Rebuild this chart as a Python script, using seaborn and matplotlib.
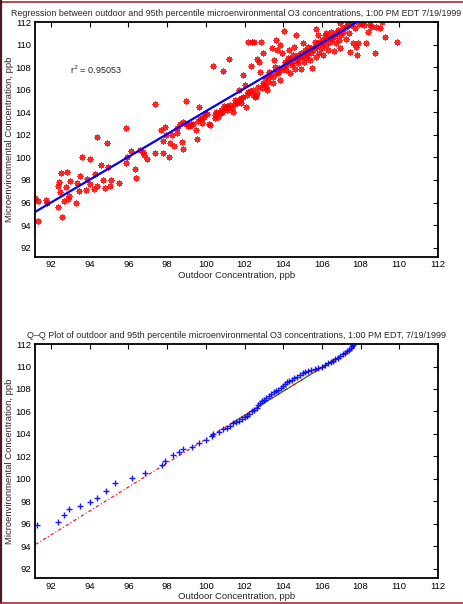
import numpy as np
import matplotlib
matplotlib.use('Agg')
import matplotlib.pyplot as plt
from matplotlib.lines import Line2D
import seaborn as sns

# scatter: outdoor vs 95th percentile microenvironmental O3 (ppb)
outdoor_x = [
    91.17, 91.30, 91.30, 91.74, 91.80, 92.38, 92.40, 92.50, 92.47, 92.38,
    92.57, 92.80, 92.77, 92.98, 92.69, 92.90, 92.95, 93.30, 93.36, 93.46,
    93.50, 93.58, 93.80, 93.88, 94.00, 94.00, 94.20, 94.29, 94.37, 94.36,
    94.58, 94.70, 94.77, 94.90, 94.96, 95.03, 95.10, 95.50, 95.86, 95.87,
    95.92, 96.11, 96.34, 96.40, 96.60, 96.77, 96.78, 96.94, 97.39, 97.37,
    97.66, 97.78, 97.77, 97.89, 97.94, 98.11, 98.14, 98.23, 98.33, 98.49,
    98.49, 98.66, 98.75, 98.83, 98.80, 98.97, 99.06, 99.26, 99.47, 99.52,
    99.64, 99.69, 99.78, 99.90, 100.04, 100.18, 100.24, 100.35, 100.47, 100.55,
    100.64, 100.76, 100.88, 100.86, 100.98, 101.07, 101.20, 101.16, 101.24, 101.41,
    101.50, 101.62, 101.72, 101.76, 101.80, 101.90, 102.00, 102.10, 102.14, 102.19,
    102.30, 102.36, 102.40, 102.45, 102.48, 102.53, 102.62, 102.65, 102.74, 102.83,
    102.80, 102.88, 102.96, 103.00, 103.07, 103.14, 103.22, 103.27, 103.40, 103.34,
    103.45, 103.51, 103.58, 103.65, 103.69, 103.74, 103.82, 103.86, 103.96, 104.03,
    104.03, 104.10, 104.17, 104.25, 104.30, 104.34, 104.43, 104.51, 104.55, 104.60,
    104.68, 104.72, 104.79, 104.86, 104.91, 104.94, 105.03, 105.06, 105.13, 105.17,
    105.24, 105.29, 105.37, 105.46, 105.51, 105.55, 105.63, 105.68, 105.72, 105.75,
    105.80, 105.86, 105.92, 105.98, 106.03, 106.06, 106.15, 106.20, 106.23, 106.32,
    106.40, 106.49, 106.54, 106.61, 106.66, 106.75, 106.84, 106.89, 106.92, 106.96,
    107.00, 107.09, 107.23, 107.27, 107.35, 107.40, 107.47, 107.52, 107.61, 107.70,
    107.75, 107.82, 107.87, 107.92, 108.09, 108.16, 108.30, 108.39, 108.47, 108.56,
    108.73, 108.82, 108.99, 109.13, 109.25, 109.88,
    101.93, 102.19, 102.45, 102.59, 102.71, 102.96, 103.10, 103.22, 103.48, 103.62,
    103.79, 103.91, 104.13, 104.20, 104.37, 104.48, 104.65, 104.77, 104.99, 105.11,
    105.29, 105.46, 105.63, 105.80, 105.98, 106.15, 106.32, 106.49, 106.71, 106.89,
    107.09, 107.30, 107.47,
    100.47, 100.64, 100.81, 100.93, 101.07, 101.33, 101.50, 101.67, 101.84, 99.95,
    99.78, 99.60, 99.35, 99.18, 99.00,
]
micro_y = [
    96.37, 96.10, 94.40, 96.20, 96.00, 97.50, 97.85, 98.65, 96.90, 95.60,
    94.70, 98.70, 97.40, 97.90, 96.10, 96.30, 96.60, 96.00, 97.70, 97.00,
    98.35, 100.07, 97.10, 98.05, 99.83, 97.64, 97.20, 98.53, 97.50, 101.84,
    99.36, 97.97, 97.26, 101.25, 99.12, 97.50, 97.97, 97.70, 102.60, 99.47,
    100.07, 100.54, 98.97, 98.20, 100.66, 100.45, 100.21, 99.83, 104.73, 100.42,
    102.43, 100.42, 101.48, 102.67, 101.99, 100.00, 101.25, 101.99, 101.00, 102.19,
    102.58, 102.96, 101.40, 100.72, 103.14, 105.03, 102.78, 102.96, 102.43, 101.66,
    104.44, 103.37, 103.02, 103.55, 103.85, 102.96, 102.84, 108.10, 103.76, 104.05,
    103.60, 103.90, 107.69, 104.05, 104.35, 104.20, 108.70, 104.50, 104.64, 104.05,
    105.09, 104.85, 105.97, 105.09, 104.80, 107.30, 106.40, 104.50, 105.53, 110.20,
    105.90, 108.13, 110.20, 105.53, 110.20, 105.38, 108.70, 105.68, 108.48, 110.20,
    107.60, 106.12, 109.22, 106.42, 107.00, 105.97, 106.70, 107.60, 109.67, 107.30,
    106.56, 108.63, 108.04, 110.40, 109.50, 107.45, 106.86, 109.96, 109.22, 111.23,
    108.04, 108.48, 107.75, 108.78, 109.50, 107.45, 108.19, 109.08, 109.81, 107.80,
    110.88, 108.63, 108.34, 108.93, 107.80, 109.22, 110.17, 108.48, 109.50, 108.78,
    109.08, 109.81, 108.63, 109.22, 107.89, 109.50, 110.26, 108.93, 111.35, 109.81,
    110.85, 109.22, 110.10, 109.67, 110.40, 109.08, 110.85, 109.96, 111.00, 109.50,
    110.26, 111.14, 110.46, 109.46, 110.76, 110.10, 111.30, 110.40, 111.88, 109.67,
    110.85, 111.14, 111.59, 110.46, 111.94, 111.05, 109.37, 111.73, 110.10, 111.44,
    109.81, 109.08, 110.10, 111.82, 111.88, 111.70, 110.17, 111.14, 111.82, 111.53,
    109.22, 111.59, 111.44, 112.00, 110.64, 110.23,
    105.38, 105.83, 105.97, 105.44, 106.27, 106.56, 106.20, 107.15, 107.10, 107.50,
    107.90, 107.75, 108.19, 108.48, 108.70, 108.34, 108.78, 109.08, 108.93, 109.22,
    109.37, 109.67, 109.81, 110.10, 110.17, 110.40, 110.55, 110.70, 111.00, 111.14,
    111.44, 111.65, 111.88,
    103.46, 103.90, 104.20, 104.55, 104.55, 104.35, 104.73, 105.09, 105.24, 103.90,
    103.46, 103.25, 102.96, 102.78, 102.96,
]

# regression line
fit_slope = 1.011
fit_intercept = 2.99
r_squared = 0.95053

# Q-Q plot: quantile pairs
qq_x = [
    91.29, 92.38, 92.65, 92.93, 93.48, 94.01, 94.38, 94.86, 95.32, 96.18,
    96.84, 97.73, 97.89, 98.28, 98.61, 98.83, 99.31, 99.64, 100.00, 100.30,
    100.38, 100.69, 100.90, 101.07, 101.24, 101.40, 101.55, 101.70, 101.85, 102.00,
    102.12, 102.25, 102.38, 102.50, 102.62, 102.72, 102.80, 102.90, 103.00, 103.12,
    103.25, 103.38, 103.50, 103.62, 103.75, 103.88, 104.00, 104.10, 104.20, 104.32,
    104.45, 104.58, 104.70, 104.85, 105.00, 105.15, 105.30, 105.45, 105.62, 105.80,
    105.98, 106.15, 106.30, 106.45, 106.58, 106.70, 106.82, 106.95, 107.08, 107.20,
    107.30, 107.40, 107.48, 107.55, 107.60,
]
qq_y = [
    95.85, 96.17, 96.76, 97.30, 97.59, 97.92, 98.33, 98.89, 99.63, 100.10,
    100.52, 101.23, 101.62, 102.09, 102.41, 102.62, 102.86, 103.21, 103.48, 103.80,
    103.95, 104.19, 104.43, 104.57, 104.72, 104.95, 105.05, 105.15, 105.35, 105.50,
    105.62, 105.80, 106.00, 106.12, 106.30, 106.55, 106.75, 106.90, 107.05, 107.20,
    107.35, 107.52, 107.70, 107.82, 107.95, 108.08, 108.30, 108.45, 108.58, 108.70,
    108.82, 108.95, 109.05, 109.25, 109.40, 109.50, 109.60, 109.68, 109.75, 109.85,
    110.00, 110.15, 110.30, 110.40, 110.52, 110.65, 110.78, 110.92, 111.08, 111.20,
    111.35, 111.50, 111.65, 111.80, 111.95,
]
qq_line_x = [91.2, 107.7]
qq_line_y = [94.16, 111.73]
quartile_x = [101.3, 106.8]

ticks = list(range(92, 113, 2))
lims = (91.17, 112)

sns.set_style('white')
plt.rcParams['font.family'] = ['Liberation Sans', 'DejaVu Sans']
plt.rcParams['xtick.direction'] = 'in'
plt.rcParams['ytick.direction'] = 'in'

fig = plt.figure(figsize=(4.64, 6.04), dpi=100)
ax1 = fig.add_axes([0.0754, 0.5745, 0.8685, 0.389])
ax2 = fig.add_axes([0.0754, 0.043, 0.8685, 0.3874])

ast = (8, 2, 0)
sns.scatterplot(x=outdoor_x, y=micro_y, ax=ax1, marker=ast, color='#ff0000',
                s=13, linewidth=0.9, edgecolor='#ff0000', alpha=0.85, zorder=2)
fx = np.array([min(outdoor_x), max(outdoor_x)])
ax1.plot(fx, fit_slope * fx + fit_intercept, color='#0000ff', lw=1.6, zorder=3)
ax1.text(93.0, 107.8, f'r$^2$ = {r_squared:.5f}', fontsize=6.5, va='center')
ax1.set_title('Regression between outdoor and 95th percentile microenvironmental O3 '
              'concentrations, 1:00 PM EDT 7/19/1999', fontsize=6.4, pad=4)

q_line = [qq_line_y[0] + (q - qq_line_x[0]) * (qq_line_y[1] - qq_line_y[0]) /
          (qq_line_x[1] - qq_line_x[0]) for q in quartile_x]
ax2.plot(quartile_x, q_line, color='#008000', lw=0.8, zorder=2)
ax2.plot(qq_line_x, qq_line_y, color='#ff0000', lw=0.8, ls='-.', dashes=(3, 2, 1, 2), zorder=3)
sns.scatterplot(x=qq_x, y=qq_y, ax=ax2, marker='+', color='#0000ff', s=21,
                linewidth=1.0, alpha=0.9, zorder=4)
ax2.set_title('Q\u2013Q Plot of outdoor and 95th percentile microenvironmental O3 '
              'concentrations, 1:00 PM EDT, 7/19/1999', fontsize=6.5, pad=4)

for ax in (ax1, ax2):
    ax.set_xlim(lims)
    ax.set_ylim(lims)
    ax.set_xticks(ticks)
    ax.set_yticks(ticks)
    ax.tick_params(labelsize=6.8, length=3.5, width=0.8, pad=2.5,
                   top=True, right=True, colors='black')
    ax.set_xlabel('Outdoor Concentration, ppb', fontsize=6.8, labelpad=1)
    ax.set_ylabel('Microenvironmental Concentration, ppb', fontsize=6.8, labelpad=1)
    for sp in ax.spines.values():
        sp.set_linewidth(1.3)
        sp.set_color('black')

# page frame
fig.add_artist(Line2D([0, 1], [0.997, 0.997], color='#b0243a', lw=1.2, transform=fig.transFigure))
fig.add_artist(Line2D([0.002, 0.002], [0, 1], color='#4a1a1e', lw=1.6, transform=fig.transFigure))
fig.add_artist(Line2D([0, 1], [0.002, 0.002], color='#b0243a', lw=1.2, transform=fig.transFigure))

fig.savefig('out.png', dpi=100, facecolor='white')
